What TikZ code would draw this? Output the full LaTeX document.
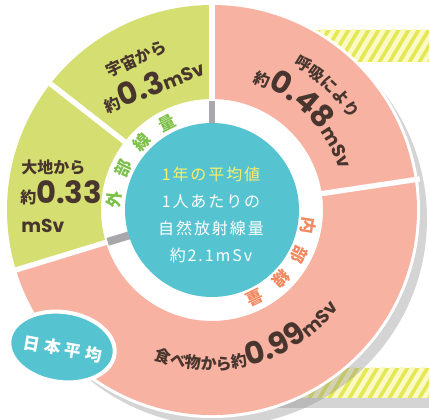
\documentclass[tikz,border=0pt]{standalone}
\usepackage{fontspec}
\setmainfont{Noto Sans CJK JP}
\newfontfamily\numfont{Poppins}
\usetikzlibrary{decorations.text}

\definecolor{ringgreen}{RGB}{213,222,112}
\definecolor{ringpink}{RGB}{248,178,162}
\definecolor{coreteal}{RGB}{86,196,208}
\definecolor{darktext}{RGB}{72,54,46}
\definecolor{coreyellow}{RGB}{250,238,110}
\definecolor{extgreen}{RGB}{125,192,72}
\definecolor{intorange}{RGB}{242,136,96}
\definecolor{shadowgray}{RGB}{212,212,212}
\definecolor{markgray}{RGB}{168,168,172}
\definecolor{stripeyellow}{RGB}{228,232,84}
\definecolor{stripelight}{RGB}{252,250,196}

\newcommand\jpbrown{\color{darktext}\bfseries\fontsize{12}{12}\selectfont}
\newcommand\numbig{\color{darktext}\numfont\bfseries\fontsize{23}{23}\selectfont}
\newcommand\numsmall{\color{darktext}\numfont\bfseries\fontsize{14}{14}\selectfont}

\begin{document}
\begin{tikzpicture}[x=0.75pt,y=0.75pt,
    stripe/.style={stripelight, line width=3.5},
    ringlabel/.style={inner sep=0.75pt, font=\bfseries\fontsize{12.5}{12.5}\selectfont},
    curvetext/.style={decorate, decoration={text along path, text align=center, text={#1}}}]
    \useasboundingbox (-212,-210) rectangle (217,210);

    % Striped band, top right
    \begin{scope}
        \clip (60,148) rectangle (217,180);
        \fill [stripeyellow] (60,148) rectangle (217,180);
        \foreach \sx in {30,40,...,230}
            \draw [stripe] (\sx,144) -- ++(24,40);
    \end{scope}
    % Striped band, bottom right
    \fill [shadowgray] (60,-198) rectangle (217,-188);
    \begin{scope}
        \clip (60,-188) rectangle (217,-158);
        \fill [stripeyellow] (60,-188) rectangle (217,-158);
        \foreach \sx in {30,40,...,230}
            \draw [stripe] (\sx,-192) -- ++(24,40);
    \end{scope}

    % Shadow of the disc
    \fill [black!42, fill opacity=0.4] (8,-9) circle [radius=207];
    % White rim
    \fill [white] (0,0) circle [radius=208];

    % Outer ring: external dose
    \fill [ringgreen] (90:205) arc [start angle=90, end angle=142, radius=205] -- (142:111) arc [start angle=142, end angle=90, radius=111] -- cycle;
    \fill [ringgreen] (142:205) arc [start angle=142, end angle=197, radius=205] -- (197:111) arc [start angle=197, end angle=142, radius=111] -- cycle;
    % Outer ring: internal dose
    \fill [ringpink] (197:205) arc [start angle=197, end angle=368.5, radius=205] -- (8.5:111) arc [start angle=368.5, end angle=197, radius=111] -- cycle;
    \fill [ringpink] (8.5:205) arc [start angle=8.5, end angle=90, radius=205] -- (90:111) arc [start angle=90, end angle=8.5, radius=111] -- cycle;
    % Gaps between the parts
    \foreach \ang in {8.5,90,142,197}
        \draw [white, line width=4] (\ang:108) -- (\ang:210);
    % Grey marks in the white band
    \draw [markgray, line width=5] (90:86) -- (90:109);
    \draw [markgray, line width=6] (197:86) -- (197:109);

    % Core disc
    \fill [coreteal] (0,0) circle [radius=87];

    % Band labels
    \foreach \ang/\ch [count=\i] in {174/外,155/部,136/線,117/量}
        \node (ext\i) [ringlabel, text=extgreen, rotate=\ang-90] at (\ang:98) {\ch};
    \foreach \ang/\ch [count=\i] in {-9/内,-27/部,-45/線,-64/量}
        \node (int\i) [ringlabel, text=intorange, rotate=\ang-90] at (\ang:98) {\ch};

    % Text Node
    \node (core) [align=center, text=white, inner sep=0.75pt, font=\fontsize{12}{20.25}\selectfont\addfontfeatures{LetterSpace=12}] at (-1,-5)
        {\textcolor{coreyellow}{1年の平均値}\\1人あたりの\\自然放射線量\\約2.1mSv};

    % Text Node
    \node (cosmic) [rotate=25, inner sep=0.75pt] at (-76,151) {\jpbrown 宇宙から};
    \node (cosmicval) [rotate=22, inner sep=0.75pt] at (-59,126) {\jpbrown 約\numbig 0.3\numsmall mSv};
    % Text Node
    \node (ground) [anchor=base west, inner sep=0.75pt] at (-192,36) {\jpbrown 大地から};
    \node (groundval) [anchor=base west, inner sep=0.75pt] at (-193,6) {\jpbrown 約\numbig 0.33};
    \node (groundunit) [anchor=base west, inner sep=0.75pt] at (-192,-23) {\numsmall mSv};

    % Curved texts
    \path [curvetext={|\jpbrown|呼吸により}] (77:166) arc [start angle=77, end angle=17, radius=166];
    \path [curvetext={|\jpbrown|約|\numbig|0.48|\numsmall|mSv}] (85:134) arc [start angle=85, end angle=5, radius=134];
    \path [curvetext={|\jpbrown|食べ物から約|\numbig|0.99|\numsmall|mSv}] (-142:160) arc [start angle=-142, end angle=-7, radius=160];

    % Bubble
    \draw [fill=coreteal, draw=white, line width=3, rotate around={-8:(-150,-137)}] (-150,-137) ellipse [x radius=53, y radius=35];
    \node (avg) [rotate=-10, text=white, inner sep=0.75pt, font=\bfseries\fontsize{12.5}{12.5}\selectfont\addfontfeatures{LetterSpace=25}] at (-149,-139) {日本平均};
\end{tikzpicture}
\end{document}
